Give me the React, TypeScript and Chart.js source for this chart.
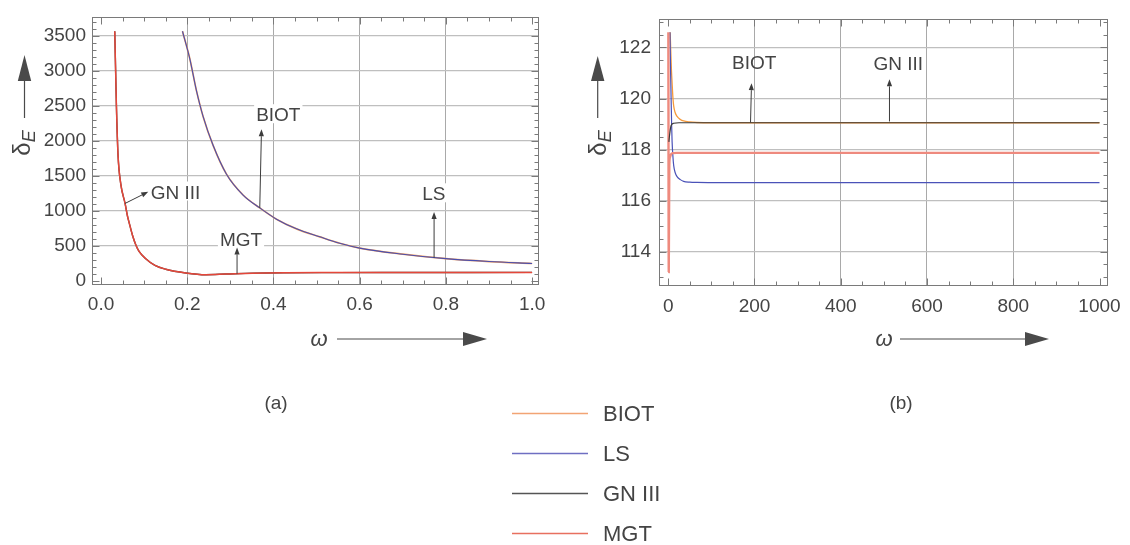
import React, { useEffect, useRef } from "react";
import { Chart, registerables } from "chart.js";

Chart.register(...registerables);

const FONT = '"Liberation Sans", Arial, Helvetica, sans-serif';
const INK = "#444444";

// ---------------- panel (a) data ----------------
const omegaA_MGT = [0.0318, 0.0357, 0.0394, 0.0457, 0.0557, 0.0613, 0.065, 0.0729, 0.0805, 0.0882, 0.1037, 0.125, 0.15, 0.1965, 0.243, 0.289, 0.351, 0.4285, 0.55, 0.7, 0.85, 1.0];
const deltaA_MGT = [3570, 2490, 1800, 1390, 1110, 930, 840, 655, 520, 425, 320, 225, 170, 117, 92, 101, 114, 120, 122, 123, 124, 125];
const omegaA_GN3 = omegaA_MGT;
const deltaA_GN3 = deltaA_MGT;
const omegaA_LS = [0.1889, 0.2058, 0.2213, 0.2367, 0.2599, 0.291, 0.3295, 0.3682, 0.407, 0.4534, 0.5074, 0.5538, 0.6, 0.7, 0.8, 0.9, 1.0];
const deltaA_LS = [3569, 3179, 2721, 2353, 1940, 1528, 1230, 1046, 885, 747, 633, 541, 472, 385, 321, 280, 252];
const omegaA_BIOT = omegaA_LS;
const deltaA_BIOT = deltaA_LS;

const xTicksA = [0, 0.2, 0.4, 0.6, 0.8, 1.0];
const xTickLabelsA = ["0.0", "0.2", "0.4", "0.6", "0.8", "1.0"];
const xGridA = [0.2, 0.4, 0.6, 0.8];
const yTicksA = [0, 500, 1000, 1500, 2000, 2500, 3000, 3500];
const yTickLabelsA = ["0", "500", "1000", "1500", "2000", "2500", "3000", "3500"];
const yGridA = [500, 1000, 1500, 2000, 2500, 3000, 3500];

// ---------------- panel (b) data ----------------
const omegaB_MGT = [0.3, 1.2, 2.5, 4, 6, 10, 20, 1000];
const deltaB_MGT = [122.6, 113.2, 117.4, 117.7, 117.8, 117.86, 117.87, 117.87];
const omegaB_LS = [4, 5.5, 6.7, 8, 9, 11, 12.7, 16, 20.5, 28, 35.7, 50, 66.5, 120, 1000];
const deltaB_LS = [122.6, 121.0, 120.0, 118.9, 118.3, 117.7, 117.37, 117.1, 116.94, 116.82, 116.75, 116.72, 116.71, 116.7, 116.7];
const omegaB_BIOT = [4.5, 6, 7.5, 9, 11, 12.7, 16, 20.5, 28, 35.7, 50, 66.5, 100, 1000];
const deltaB_BIOT = [122.6, 121.8, 121.1, 120.6, 120.0, 119.7, 119.45, 119.3, 119.18, 119.12, 119.08, 119.06, 119.05, 119.05];
const omegaB_GN3 = [1.5, 3.5, 6.7, 12.7, 25, 1000];
const deltaB_GN3 = [118.3, 118.62, 118.94, 119.03, 119.05, 119.05];

const xTicksB = [0, 200, 400, 600, 800, 1000];
const xTickLabelsB = ["0", "200", "400", "600", "800", "1000"];
const xGridB = [200, 400, 600, 800];
const yTicksB = [114, 116, 118, 120, 122];
const yTickLabelsB = ["114", "116", "118", "120", "122"];
const yGridB = [114, 116, 118, 120, 122];

// legend
const legendLabels = ["BIOT", "LS", "GN III", "MGT"];
const legendColors = ["#f2a474", "#6f6fc2", "#555555", "#e8705f"];

type Series = { label: string; x: number[]; y: number[]; color: string; width: number };
type Ann = { text: string; cx: number; cy: number; tail: number[]; head: number[]; bg: boolean };
type PanelProps = {
  left: number; top: number; width: number; height: number;
  area: { left: number; right: number; top: number; bottom: number };
  xMin: number; xMax: number; yMin: number; yMax: number;
  xTicks: number[]; xLabels: string[]; xGrid: number[]; xMinorStep: number;
  yTicks: number[]; yLabels: string[]; yGrid: number[]; yMinorStep: number;
  yPad: number;
  series: Series[];
  anns: Ann[];
};

const near = (a: number, list: number[]) => list.some((v) => Math.abs(v - a) < 1e-9);

function drawArrow(ctx: CanvasRenderingContext2D, x1: number, y1: number, x2: number, y2: number, hl: number, hw: number, color: string) {
  const ang = Math.atan2(y2 - y1, x2 - x1);
  const bx = x2 - hl * Math.cos(ang);
  const by = y2 - hl * Math.sin(ang);
  ctx.save();
  ctx.strokeStyle = color;
  ctx.lineWidth = 1;
  ctx.beginPath();
  ctx.moveTo(x1, y1);
  ctx.lineTo(bx, by);
  ctx.stroke();
  ctx.fillStyle = color;
  ctx.beginPath();
  ctx.moveTo(x2, y2);
  ctx.lineTo(bx + hw * Math.sin(ang), by - hw * Math.cos(ang));
  ctx.lineTo(bx - hw * Math.sin(ang), by + hw * Math.cos(ang));
  ctx.closePath();
  ctx.fill();
  ctx.restore();
}

function Panel(p: PanelProps) {
  const ref = useRef<HTMLCanvasElement>(null);
  useEffect(() => {
    const datasets = p.series.map((s) => ({
      label: s.label,
      data: s.x.map((x, i) => ({ x, y: s.y[i] })),
      borderColor: s.color,
      borderWidth: s.width,
      pointRadius: 0,
      cubicInterpolationMode: "monotone" as const,
      fill: false,
    }));
    const plugin = {
      id: "frameAnn",
      afterDatasetsDraw(chart: any) {
        const ctx: CanvasRenderingContext2D = chart.ctx;
        const xs = chart.scales.x;
        const ys = chart.scales.y;
        ctx.save();
        ctx.font = `19px ${FONT}`;
        for (const a of p.anns) {
          if (a.bg) {
            const w = ctx.measureText(a.text).width;
            ctx.fillStyle = "#ffffff";
            ctx.fillRect(a.cx - p.left - w / 2 - 2, a.cy - p.top - 10, w + 4, 19);
          }
        }
        for (const a of p.anns) {
          drawArrow(
            ctx,
            xs.getPixelForValue(a.tail[0]), ys.getPixelForValue(a.tail[1]),
            xs.getPixelForValue(a.head[0]), ys.getPixelForValue(a.head[1]),
            7, 2.6, "#3c3c3c"
          );
        }
        ctx.restore();
      },
      afterDraw(chart: any) {
        const ctx: CanvasRenderingContext2D = chart.ctx;
        const { left, right, top, bottom } = chart.chartArea;
        const xs = chart.scales.x;
        const ys = chart.scales.y;
        ctx.save();
        ctx.strokeStyle = "#7a7a7a";
        ctx.lineWidth = 1;
        const L = Math.round(left) + 0.5, R = Math.round(right) - 0.5;
        const T = Math.round(top) + 0.5, B = Math.round(bottom) - 0.5;
        ctx.strokeRect(L, T, R - L, B - T);
        ctx.beginPath();
        // x ticks
        const x0 = Math.ceil(p.xMin / p.xMinorStep) * p.xMinorStep;
        for (let v = x0; v <= p.xMax + 1e-9; v += p.xMinorStep) {
          const major = p.xTicks.some((t) => Math.abs(t - v) < p.xMinorStep * 1e-3);
          const len = major ? 7 : 4;
          const px = Math.round(xs.getPixelForValue(v)) + 0.5;
          ctx.moveTo(px, B); ctx.lineTo(px, B - len);
          ctx.moveTo(px, T); ctx.lineTo(px, T + len);
        }
        const y0 = Math.ceil(p.yMin / p.yMinorStep) * p.yMinorStep;
        for (let v = y0; v <= p.yMax + 1e-9; v += p.yMinorStep) {
          const major = p.yTicks.some((t) => Math.abs(t - v) < p.yMinorStep * 1e-3);
          const len = major ? 7 : 4;
          const py = Math.round(ys.getPixelForValue(v)) + 0.5;
          ctx.moveTo(L, py); ctx.lineTo(L + len, py);
          ctx.moveTo(R, py); ctx.lineTo(R - len, py);
        }
        ctx.stroke();
        ctx.restore();
      },
    };
    const chart = new Chart(ref.current as HTMLCanvasElement, {
      type: "line",
      data: { datasets } as any,
      options: {
        animation: false,
        responsive: false,
        devicePixelRatio: 1,
        layout: { padding: { left: 0, top: p.area.top, right: p.width - p.area.right, bottom: 0 } },
        plugins: { legend: { display: false }, tooltip: { enabled: false } },
        elements: { point: { radius: 0 } },
        scales: {
          x: {
            type: "linear",
            min: p.xMin,
            max: p.xMax,
            afterBuildTicks: (s: any) => { s.ticks = p.xTicks.map((v) => ({ value: v })); },
            afterFit: (s: any) => { s.height = p.height - p.area.bottom; },
            ticks: {
              autoSkip: false,
              maxRotation: 0,
              padding: 9,
              color: INK,
              font: { family: FONT, size: 19 },
              callback: (_v: any, i: number) => p.xLabels[i],
            },
            grid: {
              drawTicks: false,
              lineWidth: 1,
              color: (c: any) => (c.tick && near(c.tick.value, p.xGrid) ? "#a9a9a9" : "rgba(0,0,0,0)"),
            },
            border: { display: false },
          },
          y: {
            type: "linear",
            min: p.yMin,
            max: p.yMax,
            afterBuildTicks: (s: any) => { s.ticks = p.yTicks.map((v) => ({ value: v })); },
            afterFit: (s: any) => { s.width = p.area.left; },
            ticks: {
              autoSkip: false,
              padding: p.yPad,
              color: INK,
              font: { family: FONT, size: 19 },
              callback: (_v: any, i: number) => p.yLabels[i],
            },
            grid: {
              drawTicks: false,
              lineWidth: 1.3,
              color: (c: any) => (c.tick && near(c.tick.value, p.yGrid) ? "#bfbfbf" : "rgba(0,0,0,0)"),
            },
            border: { display: false },
          },
        },
      } as any,
      plugins: [plugin],
    });
    return () => chart.destroy();
  }, []);
  return (
    <canvas
      ref={ref}
      width={p.width}
      height={p.height}
      style={{ position: "absolute", left: p.left, top: p.top, width: p.width, height: p.height }}
    />
  );
}

const Txt = ({ x, y, size = 19, children, style }: any) => (
  <div
    style={{
      position: "absolute", left: x, top: y, transform: "translate(-50%,-50%)",
      fontFamily: FONT, fontSize: size, lineHeight: 1, color: INK, whiteSpace: "nowrap", ...style,
    }}
  >
    {children}
  </div>
);

const DeltaE = ({ x, y }: any) => (
  <div
    style={{
      position: "absolute", left: x, top: y, transform: "translate(-50%,-50%) rotate(-90deg)",
      fontFamily: FONT, lineHeight: 1, color: INK, whiteSpace: "nowrap",
    }}
  >
    <span style={{ fontSize: 24 }}>δ</span>
    <span style={{ fontSize: 18, fontStyle: "italic", position: "relative", top: 5 }}>E</span>
  </div>
);

export default function App() {
  const panelA: PanelProps = {
    left: 0, top: 0, width: 560, height: 320,
    area: { left: 92, right: 539, top: 7, bottom: 284.5 },
    xMin: -0.021, xMax: 1.016, yMin: -48, yMax: 3767,
    xTicks: xTicksA, xLabels: xTickLabelsA, xGrid: xGridA, xMinorStep: 0.05,
    yTicks: yTicksA, yLabels: yTickLabelsA, yGrid: yGridA, yMinorStep: 100,
    yPad: 6,
    series: [
      { label: "MGT", x: omegaA_MGT, y: deltaA_MGT, color: "#e5473a", width: 1.5 },
      { label: "LS", x: omegaA_LS, y: deltaA_LS, color: "#4b4fae", width: 1.1 },
      { label: "GN III", x: omegaA_GN3, y: deltaA_GN3, color: "#404040", width: 1.4 },
      { label: "BIOT", x: omegaA_BIOT, y: deltaA_BIOT, color: "#f0a060", width: 1.7 },
    ],
    anns: [
      { text: "GN III", cx: 175.5, cy: 191.5, tail: [0.0557, 1110], head: [0.1095, 1276], bg: true },
      { text: "BIOT", cx: 278.3, cy: 114.2, tail: [0.3682, 1046], head: [0.3722, 2170], bg: true },
      { text: "MGT", cx: 241, cy: 239.2, tail: [0.3155, 106], head: [0.3155, 482], bg: true },
      { text: "LS", cx: 433.9, cy: 193.3, tail: [0.7726, 334], head: [0.7726, 987], bg: true },
    ],
  };
  const panelB: PanelProps = {
    left: 560, top: 0, width: 570, height: 320,
    area: { left: 99, right: 551, top: 7, bottom: 286.3 },
    xMin: -21.4, xMax: 1020, yMin: 112.64, yMax: 123.1,
    xTicks: xTicksB, xLabels: xTickLabelsB, xGrid: xGridB, xMinorStep: 50,
    yTicks: yTicksB, yLabels: yTickLabelsB, yGrid: yGridB, yMinorStep: 0.5,
    yPad: 8,
    series: [
      { label: "GN III", x: omegaB_GN3, y: deltaB_GN3, color: "#3a3a3a", width: 1.2 },
      { label: "MGT", x: omegaB_MGT, y: deltaB_MGT, color: "#ee8a7e", width: 2.4 },
      { label: "LS", x: omegaB_LS, y: deltaB_LS, color: "#4a52b8", width: 1.2 },
      { label: "BIOT", x: omegaB_BIOT, y: deltaB_BIOT, color: "#f59a3c", width: 1.3 },
    ],
    anns: [
      { text: "BIOT", cx: 754.2, cy: 62.3, tail: [190.8, 119.06], head: [193.1, 120.6], bg: false },
      { text: "GN III", cx: 898.3, cy: 63.3, tail: [513, 119.1], head: [513, 120.75], bg: false },
    ],
  };
  const arrowCol = "#4a4a4a";
  return (
    <div style={{ position: "absolute", left: 0, top: 0, width: 1130, height: 545, background: "#ffffff", overflow: "hidden" }}>
      <Panel {...panelA} />
      <Panel {...panelB} />
      <svg width={1130} height={545} style={{ position: "absolute", left: 0, top: 0, pointerEvents: "none" }}>
        {/* y-axis arrows */}
        <line x1={24.5} y1={118} x2={24.5} y2={80} stroke={arrowCol} strokeWidth={1.2} />
        <polygon points="24.5,55 17.8,81 31.2,81" fill={arrowCol} />
        <line x1={597.7} y1={118} x2={597.7} y2={80} stroke={arrowCol} strokeWidth={1.2} />
        <polygon points="597.7,56 591,81 604.4,81" fill={arrowCol} />
        {/* x-axis arrows */}
        <line x1={337} y1={339} x2={465} y2={339} stroke={arrowCol} strokeWidth={1.2} />
        <polygon points="487,339 463,332 463,346" fill={arrowCol} />
        <line x1={900} y1={339} x2={1027} y2={339} stroke={arrowCol} strokeWidth={1.2} />
        <polygon points="1049,339 1025,332 1025,346" fill={arrowCol} />
        {/* legend lines */}
        {legendLabels.map((l, i) => (
          <line key={l} x1={512} x2={588} y1={413.5 + i * 40} y2={413.5 + i * 40} stroke={legendColors[i]} strokeWidth={1.3} />
        ))}
      </svg>
      {panelA.anns.concat(panelB.anns).map((a) => (
        <Txt key={a.text + a.cx} x={a.cx} y={a.cy}>{a.text}</Txt>
      ))}
      <DeltaE x={22} y={143} />
      <DeltaE x={598} y={143} />
      <Txt x={319} y={339} size={22} style={{ fontStyle: "italic" }}>ω</Txt>
      <Txt x={884} y={339} size={22} style={{ fontStyle: "italic" }}>ω</Txt>
      <Txt x={276} y={402}>(a)</Txt>
      <Txt x={901} y={402}>(b)</Txt>
      {legendLabels.map((l, i) => (
        <div
          key={l}
          style={{
            position: "absolute", left: 603, top: 413.5 + i * 40, transform: "translateY(-50%)",
            fontFamily: FONT, fontSize: 22, lineHeight: 1, color: INK, whiteSpace: "nowrap",
          }}
        >
          {l}
        </div>
      ))}
    </div>
  );
}
